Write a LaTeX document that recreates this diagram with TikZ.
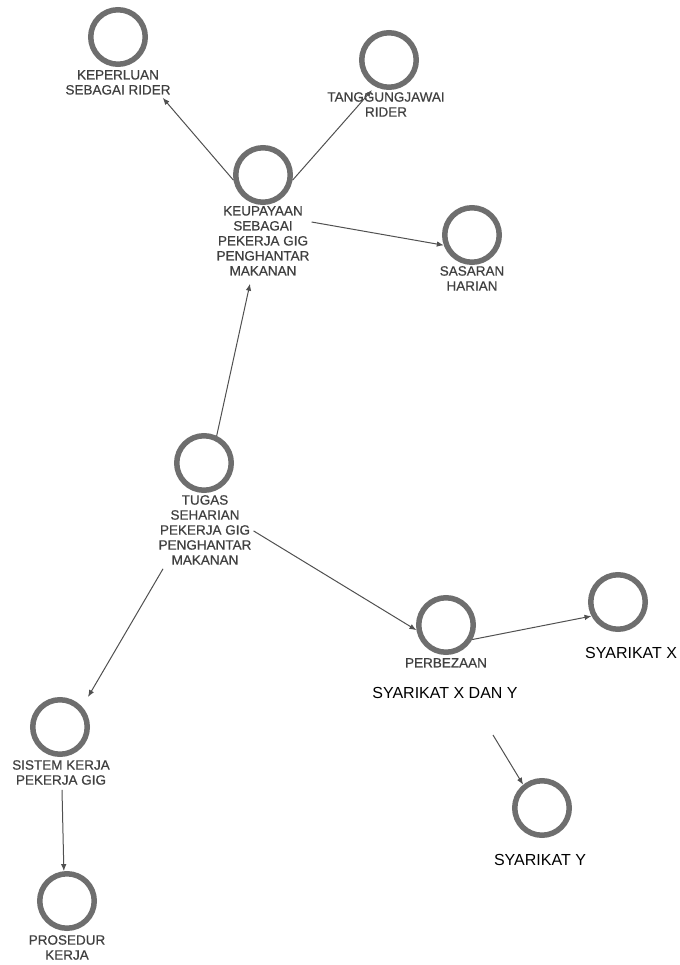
\documentclass[tikz,border=0pt]{standalone}
\usepackage{fontspec}
\setmainfont{Liberation Sans}
\newfontfamily\labfont[FakeBold=0.6]{Liberation Sans}
\usetikzlibrary{arrows.meta}
\definecolor{ringgray}{HTML}{6E6E6E}
\definecolor{labgray}{HTML}{404040}
\definecolor{edgegray}{HTML}{505050}
\begin{document}
\begin{tikzpicture}[x=1pt,y=-1pt,
  ring/.style={circle,draw=ringgray,line width=5.5pt,minimum size=54.5pt,inner sep=0pt},
  lab/.style={anchor=north,inner sep=0pt,align=center,text=labgray,
    font=\labfont\fontsize{13.5}{15}\selectfont},
  blacklab/.style={anchor=north,inner sep=0pt,text=black,
    font=\fontsize{16}{19}\selectfont},
  edge/.style={draw=edgegray,line width=1pt,-{Latex[length=7pt,width=5.5pt]}}]
\useasboundingbox (0,0) rectangle (679,965);
% nodes
\node[ring] (kep) at (118,37) {};
\node[lab] (keplab) at (118,70) {KEPERLUAN\\SEBAGAI RIDER};
\node[ring] (tang) at (389,60) {};
\node[lab] (tanglab) at (386,92) {TANGGUNGJAWAI\\RIDER};
\node[ring] (keup) at (263,175) {};
\node[lab] (keuplab) at (263,206) {KEUPAYAAN\\SEBAGAI\\PEKERJA GIG\\PENGHANTAR\\MAKANAN};
\node[ring] (sas) at (472,235) {};
\node[lab] (saslab) at (472,266) {SASARAN\\HARIAN};
\node[ring] (tug) at (204,463) {};
\node[lab] (tuglab) at (205,495) {TUGAS\\SEHARIAN\\PEKERJA GIG\\PENGHANTAR\\MAKANAN};
\node[ring] (perb) at (446,625) {};
\node[lab] (perblab) at (446,658) {PERBEZAAN};
\node[blacklab] (perbxy) at (445,687) {SYARIKAT X DAN Y};
\node[ring] (sysx) at (618,602) {};
\node[blacklab,anchor=north west] (sysxlab) at (585,647) {SYARIKAT X};
\node[ring] (sysy) at (542,808) {};
\node[blacklab] (sysylab) at (540,854) {SYARIKAT Y};
\node[ring] (sis) at (60,727) {};
\node[lab] (sislab) at (61,760) {SISTEM KERJA\\PEKERJA GIG};
\node[ring] (pro) at (67,901) {};
\node[lab] (prolab) at (67,935) {PROSEDUR\\KERJA};
\coordinate (yfrom) at (493,735);
% edges
\draw[edge] (keup.190) -- ([shift={(-8,3)}]keplab.south east);
\draw[edge] (keup.-10) -- ([shift={(-14,-2)}]tanglab.north);
\draw[edge] ([shift={(2,16)}]keuplab.north east) -- (sas.200);
\draw[edge] (tug.65) -- ([shift={(-13,8)}]keuplab.south);
\draw[edge] ([shift={(2,1)}]tuglab.east) -- (perb.190);
\draw[edge] ([shift={(-42,4)}]tuglab.south) -- ([shift={(28,-30)}]sis.center);
\draw[edge] ([shift={(1,5)}]sislab.south) -- (pro.96);
\draw[edge] (perb.-29) -- (sysx.208);
\draw[edge] (yfrom) -- (sysy.129);
\end{tikzpicture}
\end{document}
